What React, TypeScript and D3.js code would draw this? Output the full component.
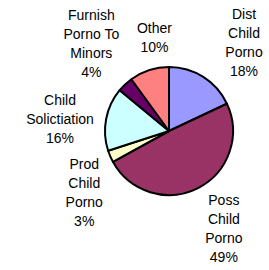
import React from "react";
import * as d3 from "d3";

// slice order runs clockwise from 12 o'clock
const categories = [
  "Dist Child Porno",
  "Poss Child Porno",
  "Prod Child Porno",
  "Child Solictiation",
  "Furnish Porno To Minors",
  "Other",
];
const percents = [18, 49, 3, 16, 4, 10];
const labelLines = [
  ["Dist", "Child", "Porno"],
  ["Poss", "Child", "Porno"],
  ["Prod", "Child", "Porno"],
  ["Child", "Solictiation"],
  ["Furnish", "Porno To", "Minors"],
  ["Other"],
];
const colors = ["#9999FF", "#993366", "#FFFFCC", "#CCFFFF", "#660066", "#FF8080"];

// layout
const width = 269;
const height = 270;
const cx = 169;
const cy = 131;
const radius = 64;
const labelRadius = 112;
const lineHeight = 19;
// excel shifts a few labels off the pure radial spot
const labelNudge: [number, number][] = [
  [15, 6],
  [4, -2],
  [18, 17],
  [1, 9],
  [-1, -6],
  [20, 13],
];

export default function App() {
  const pie = d3
    .pie<number>()
    .sort(null)
    .value((d) => d);
  const arcs = pie(percents);
  const arc = d3.arc<d3.PieArcDatum<number>>().innerRadius(0).outerRadius(radius);
  const labelArc = d3
    .arc<d3.PieArcDatum<number>>()
    .innerRadius(labelRadius)
    .outerRadius(labelRadius);

  return (
    <svg
      width={width}
      height={height}
      style={{ position: "absolute", left: 0, top: 0, background: "#fff" }}
      fontFamily="'Liberation Sans', Arial, sans-serif"
      fontSize={14}
    >
      <g transform={`translate(${cx},${cy})`}>
        {arcs.map((a, i) => (
          <path
            key={categories[i]}
            d={arc(a)!}
            fill={colors[i]}
            stroke="#000"
            strokeWidth={2}
            strokeLinejoin="round"
          />
        ))}
        {arcs.map((a, i) => {
          const [lx, ly] = labelArc.centroid(a);
          const lines = [...labelLines[i], `${percents[i]}%`];
          const x = lx + labelNudge[i][0];
          const y0 = ly + labelNudge[i][1] - ((lines.length - 1) * lineHeight) / 2;
          return (
            <text key={categories[i]} textAnchor="middle" fill="#000">
              {lines.map((t, j) => (
                <tspan key={j} x={x} y={y0 + j * lineHeight} dy="0.35em">
                  {t}
                </tspan>
              ))}
            </text>
          );
        })}
      </g>
    </svg>
  );
}
